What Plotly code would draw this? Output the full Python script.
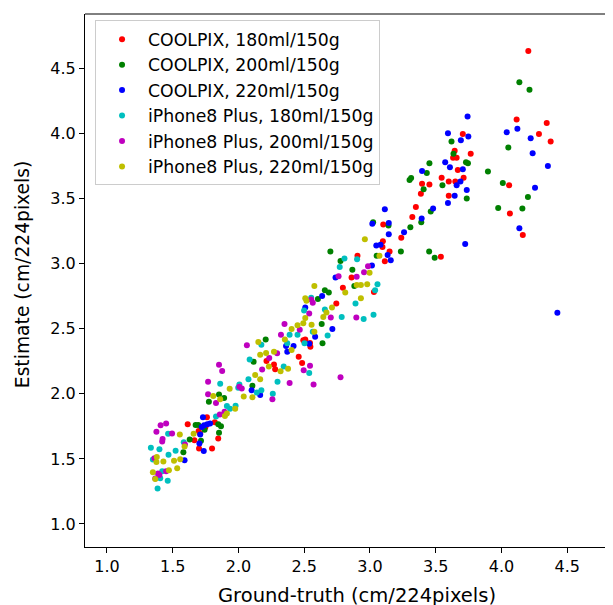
import plotly.graph_objects as go

# COOLPIX, 180ml/150g (red)
red_x = [4.204, 4.115, 4.344, 4.285, 4.374, 3.706, 3.766, 3.644, 3.659, 3.632, 3.668, 3.712, 3.545, 3.599, 3.649,
         3.599, 3.396, 3.452, 3.387, 3.349, 3.322, 3.238, 4.058, 4.064, 4.162, 3.539, 3.101, 3.098, 3.095, 3.149,
         3.113, 3.030, 2.905, 2.860, 2.794, 2.744, 2.213, 2.270, 2.458, 2.484, 2.493, 2.508, 2.547, 2.544, 2.279,
         1.614, 1.665, 1.697, 1.748, 1.760, 1.820, 1.846, 1.799, 1.700, 1.709]
red_y = [4.636, 4.109, 4.083, 3.997, 3.940, 3.997, 3.846, 3.869, 3.816, 3.816, 3.721, 3.662, 3.662, 3.633, 3.633,
         3.523, 3.615, 3.609, 3.538, 3.437, 3.360, 3.200, 3.603, 3.387, 3.221, 3.055, 3.301, 3.173, 3.129, 3.094,
         3.020, 2.783, 3.061, 2.895, 2.815, 2.694, 2.253, 2.226, 2.285, 2.238, 2.413, 2.418, 2.362, 2.392, 2.190,
         1.767, 1.643, 1.714, 1.743, 1.820, 1.782, 1.657, 1.580, 1.580, 1.693]

# COOLPIX, 200ml/150g (green)
green_x = [4.136, 4.213, 3.620, 3.635, 3.730, 3.745, 3.736, 3.452, 3.432, 3.408, 3.301, 3.313, 3.551, 3.462, 3.390,
           3.307, 3.235, 3.450, 3.492, 3.897, 4.010, 4.052, 3.975, 4.159, 4.201, 3.024, 3.141, 3.051, 2.699, 2.776,
           2.866, 2.881, 2.657, 2.687, 2.604, 2.639, 2.633, 2.207, 2.106, 2.115, 1.775, 1.852, 1.891, 1.581, 1.629,
           1.674, 1.694, 1.715, 1.846, 1.852, 1.867, 1.742]
green_y = [4.396, 4.337, 3.940, 3.846, 3.781, 3.772, 3.502, 3.772, 3.698, 3.573, 3.644, 3.659, 3.603, 3.402, 3.319,
           3.280, 3.094, 3.094, 3.046, 3.709, 3.621, 3.893, 3.428, 3.425, 3.514, 3.319, 3.295, 3.061, 3.094, 3.022,
           2.954, 2.830, 2.797, 2.780, 2.729, 2.389, 2.537, 2.418, 2.063, 2.247, 1.939, 1.995, 1.968, 1.551, 1.649,
           1.761, 1.761, 1.640, 1.767, 1.702, 1.752, 1.725]

# COOLPIX, 220ml/150g (blue)
blue_x = [3.742, 3.593, 3.748, 3.691, 3.706, 3.608, 3.572, 3.396, 3.688, 3.659, 3.736, 3.644, 3.593, 3.480, 3.393,
          3.259, 3.113, 3.143, 3.018, 3.143, 3.048, 3.080, 3.134, 3.158, 3.015, 3.724, 4.040, 4.121, 4.222, 4.237,
          4.353, 4.255, 4.136, 4.425, 2.738, 2.714, 2.636, 2.583, 2.508, 2.362, 2.371, 2.419, 2.538, 2.165, 2.100,
          1.730, 1.721, 1.739, 1.763, 1.784, 1.709, 1.736, 1.703, 1.590]
blue_y = [4.133, 4.003, 3.979, 3.949, 3.727, 3.742, 3.781, 3.713, 3.633, 3.603, 3.567, 3.523, 3.467, 3.425, 3.348,
          3.242, 3.419, 3.313, 3.307, 3.227, 3.141, 3.147, 3.067, 3.028, 2.987, 3.153, 4.012, 4.038, 3.964, 3.849,
          3.751, 3.585, 3.274, 2.623, 2.895, 2.498, 2.753, 2.439, 2.664, 2.368, 2.324, 2.368, 2.386, 1.992, 2.028,
          1.820, 1.746, 1.758, 1.767, 1.773, 1.687, 1.560, 1.619, 1.489]

# iPhone8 Plus, 180ml/150g (cyan)
cyan_x = [2.806, 2.770, 2.902, 3.057, 3.039, 2.890, 3.027, 2.952, 2.785, 2.678, 2.657, 2.553, 2.499, 2.502, 2.449,
          2.389, 2.371, 2.344, 2.538, 2.565, 2.297, 2.261, 2.174, 2.139, 2.085, 2.174, 2.076, 1.978, 1.936, 1.912,
          1.861, 1.829, 2.007, 1.998, 1.584, 1.522, 1.468, 1.465, 1.399, 1.334, 1.349, 1.405, 1.462, 1.385, 1.420]
cyan_y = [3.040, 2.975, 3.034, 2.842, 2.797, 2.694, 2.608, 2.575, 2.590, 2.448, 2.649, 2.738, 2.641, 2.389, 2.454,
          2.454, 2.389, 2.211, 2.161, 2.478, 2.093, 2.001, 2.028, 2.010, 2.264, 2.377, 2.113, 1.909, 1.885, 1.906,
          2.078, 1.826, 2.072, 2.048, 1.628, 1.563, 1.533, 1.693, 1.574, 1.586, 1.495, 1.352, 1.332, 1.272, 1.406]

# iPhone8 Plus, 200ml/150g (magenta)
mag_x = [2.776, 2.571, 2.544, 2.496, 2.389, 2.258, 2.761, 2.899, 2.955, 2.985, 2.896, 2.702, 2.538, 2.553, 2.466,
         2.350, 2.323, 2.294, 2.234, 2.180, 2.064, 2.007, 2.025, 1.876, 1.852, 1.769, 1.769, 1.829, 1.858, 1.894,
         1.376, 1.408, 1.450, 1.495, 1.420, 1.423, 1.361, 1.388, 1.399, 1.367, 1.450, 1.593, 2.565]
mag_y = [2.128, 2.072, 2.217, 2.182, 2.084, 1.959, 2.904, 2.901, 2.934, 2.981, 2.587, 2.587, 2.617, 2.726, 2.492,
         2.537, 2.454, 2.312, 2.276, 2.187, 2.374, 2.054, 2.042, 2.176, 2.223, 2.093, 1.998, 1.930, 1.841, 1.862,
         1.708, 1.758, 1.773, 1.696, 1.634, 1.654, 1.506, 1.388, 1.376, 1.349, 1.406, 1.610, 2.700]

# iPhone8 Plus, 220ml/150g (olive)
oli_x = [2.961, 2.997, 3.072, 2.931, 2.899, 2.931, 2.979, 2.812, 2.711, 2.577, 2.508, 2.517, 2.577, 2.556, 2.508,
         2.493, 2.449, 2.404, 2.353, 2.404, 2.377, 2.320, 2.270, 2.210, 2.165, 2.151, 2.231, 2.127, 2.165, 2.106,
         2.040, 1.975, 1.933, 1.861, 1.808, 1.897, 1.912, 1.659, 1.554, 1.590, 1.557, 1.510, 1.534, 1.429, 1.379,
         1.376, 1.471, 1.349, 1.367, 2.669, 2.645]
oli_y = [3.188, 2.931, 3.061, 2.735, 2.836, 2.836, 2.842, 2.780, 2.664, 2.830, 2.735, 2.715, 2.478, 2.531, 2.584,
         2.543, 2.528, 2.498, 2.418, 2.338, 2.193, 2.173, 2.324, 2.315, 2.300, 2.398, 2.211, 2.146, 2.113, 1.974,
         1.980, 1.885, 2.039, 1.959, 1.983, 1.829, 1.850, 1.693, 1.687, 1.595, 1.497, 1.486, 1.429, 1.480, 1.515,
         1.477, 1.412, 1.397, 1.346, 2.626, 2.590]

tick_vals = [1.0, 1.5, 2.0, 2.5, 3.0, 3.5, 4.0, 4.5]
tick_text = ["1.0", "1.5", "2.0", "2.5", "3.0", "3.5", "4.0", "4.5"]

series = [
    ("COOLPIX, 180ml/150g", red_x, red_y, "#ff0000"),
    ("COOLPIX, 200ml/150g", green_x, green_y, "#008000"),
    ("COOLPIX, 220ml/150g", blue_x, blue_y, "#0000ff"),
    ("iPhone8 Plus, 180ml/150g", cyan_x, cyan_y, "#00bfbf"),
    ("iPhone8 Plus, 200ml/150g", mag_x, mag_y, "#bf00bf"),
    ("iPhone8 Plus, 220ml/150g", oli_x, oli_y, "#bfbf00"),
]

fig = go.Figure()
for name, xs, ys, col in series:
    fig.add_trace(go.Scatter(x=xs, y=ys, mode="markers", name=name,
                             marker=dict(color=col, size=6, line=dict(width=0))))

fig.update_layout(
    width=605, height=597,
    margin=dict(l=77, r=0, t=6, b=58),
    paper_bgcolor="white", plot_bgcolor="white",
    font=dict(family="DejaVu Sans", size=16, color="black"),
    showlegend=True,
    legend=dict(x=0.019, y=0.988, xanchor="left", yanchor="top",
                bordercolor="#cccccc", borderwidth=1, bgcolor="rgba(255,255,255,0.8)",
                itemwidth=42, font=dict(family="DejaVu Sans", size=17.3, color="black")),
    xaxis=dict(range=[0.833, 4.848], tickvals=tick_vals, ticktext=tick_text,
               showgrid=False, zeroline=False, showline=True, linecolor="black", linewidth=1,
               ticks="outside", ticklen=5, tickcolor="black"),
    yaxis=dict(range=[0.823, 4.92], tickvals=tick_vals, ticktext=tick_text,
               showgrid=False, zeroline=False, showline=True, linecolor="black", linewidth=1,
               ticks="outside", ticklen=5, tickcolor="black"),
)
fig.add_annotation(text="Estimate (cm/224pixels)", xref="paper", yref="paper", x=0, y=0.51,
                   xanchor="center", yanchor="middle", xshift=-63, textangle=-90,
                   showarrow=False, font=dict(family="DejaVu Sans", size=18.7, color="black"))
fig.add_annotation(text="Ground-truth (cm/224pixels)", xref="paper", yref="paper", x=0.515, y=0,
                   xanchor="center", yanchor="middle", yshift=-48,
                   showarrow=False, font=dict(family="DejaVu Sans", size=19.5, color="black"))
fig.add_shape(type="line", xref="paper", yref="paper", x0=0, x1=1, y0=1, y1=1,
              line=dict(color="black", width=1))

fig.write_html("out.html")
